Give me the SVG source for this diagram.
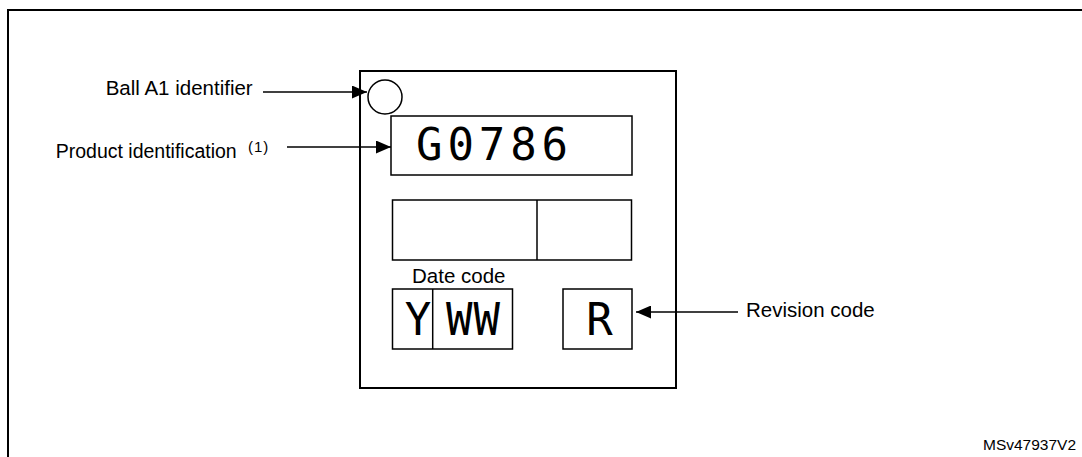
<svg xmlns="http://www.w3.org/2000/svg" width="1082" height="457" viewBox="0 0 1082 457">
<style>
.lbl{font-family:"Liberation Sans",Arial,sans-serif;font-size:20.5px;fill:#000}
.sup{font-family:"Liberation Sans",Arial,sans-serif;font-size:15px;fill:#000}
.ref{font-family:"Liberation Sans",Arial,sans-serif;font-size:15.5px;fill:#000}
.mark{font-family:"DejaVu Sans Mono",monospace;font-size:44px;fill:#000}
.box{fill:#fff;stroke:#000;stroke-width:1.5}
.conn{stroke:#000;stroke-width:1.3;fill:none}
</style>
<defs>
<marker id="ah" viewBox="0 0 15 13" refX="15" refY="6.5" markerWidth="15" markerHeight="13" markerUnits="userSpaceOnUse" orient="auto"><path d="M0,0L15,6.5L0,13z" fill="#000"/></marker>
</defs>
<rect width="1082" height="457" fill="#fff"/>
<path d="M8,457V10H1082" fill="none" stroke="#000" stroke-width="2"/>
<g id="package">
<rect x="360" y="71" width="316" height="317" fill="#fff" stroke="#000" stroke-width="2"/>
</g>
<g id="ball-a1">
<circle cx="385" cy="97" r="17" fill="#fff" stroke="#000" stroke-width="1.5"/>
</g>
<g id="product-id">
<rect class="box" x="391" y="116" width="241" height="59"/>
<text class="mark" x="416" y="160" textLength="152">G0786</text>
</g>
<g id="blank-field">
<rect class="box" x="392.5" y="200" width="239" height="60"/>
<line x1="537" y1="200" x2="537" y2="260" stroke="#000" stroke-width="1.5"/>
</g>
<g id="date-code">
<text class="lbl" x="412" y="283" font-size="21">Date code</text>
<rect class="box" x="392.5" y="289" width="120" height="60"/>
<line x1="432.7" y1="289" x2="432.7" y2="349" stroke="#000" stroke-width="1.5"/>
<text class="mark" x="418" y="335" text-anchor="middle">Y</text>
<text class="mark" x="446" y="335" textLength="54">WW</text>
</g>
<g id="revision">
<rect class="box" x="563" y="289" width="69" height="60"/>
<text class="mark" x="599.5" y="335" text-anchor="middle">R</text>
</g>
<g id="labels">
<text class="lbl" x="105.7" y="95">Ball A1 identifier</text>
<text class="lbl" x="55.7" y="158" style="font-size:19.5px">Product identification</text>
<text class="sup" x="248" y="152" letter-spacing="1">(1)</text>
<text class="lbl" x="746" y="317">Revision code</text>
<text class="ref" x="983" y="450">MSv47937V2</text>
</g>
<g id="connectors">
<line class="conn" x1="263" y1="92" x2="367" y2="92" marker-end="url(#ah)"/>
<line class="conn" x1="287" y1="147" x2="391" y2="147" marker-end="url(#ah)"/>
<line class="conn" x1="738" y1="312" x2="636" y2="312" marker-end="url(#ah)"/>
</g>
</svg>
